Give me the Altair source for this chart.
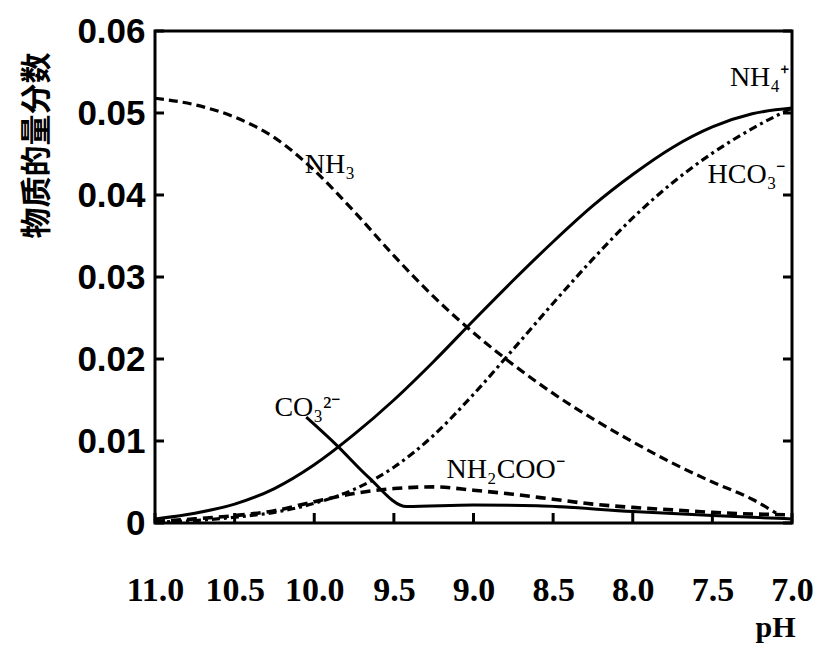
import altair as alt
import pandas as pd

# ---- data ----
PH = [11.0, 10.75, 10.5, 10.25, 10.0, 9.75, 9.5, 9.25, 9.0, 8.75, 8.5, 8.25, 8.0, 7.75, 7.5, 7.25, 7.0]

NH3_PH = [11.0, 10.75, 10.5, 10.25, 10.0, 9.75, 9.5, 9.25, 9.0, 8.75, 8.5, 8.25, 8.0, 7.75, 7.5, 7.25, 7.1]
NH3 = [0.0518, 0.0510, 0.0495, 0.0470, 0.0430, 0.0380, 0.0326, 0.0276, 0.0232, 0.0193, 0.0158, 0.0127,
       0.0099, 0.0073, 0.0050, 0.0029, 0.0012]

NH4 = [0.0005, 0.0012, 0.0023, 0.0042, 0.0071, 0.0108, 0.0150, 0.0197, 0.0247, 0.0296, 0.0343, 0.0387,
       0.0425, 0.0458, 0.0483, 0.0499, 0.0506]

HCO3 = [0.0001, 0.0003, 0.0007, 0.0013, 0.0024, 0.0041, 0.0068, 0.0107, 0.0157, 0.0212, 0.0268, 0.0322,
        0.0372, 0.0415, 0.0451, 0.0481, 0.0506]

NH2COO = [0.0002, 0.0005, 0.0009, 0.0015, 0.0026, 0.0036, 0.0042, 0.0044, 0.0040, 0.0035, 0.0029, 0.0023,
          0.0019, 0.0016, 0.0013, 0.0011, 0.0010]

CO3_PH = [10.05, 9.86, 9.66, 9.42, 9.0, 8.6, 8.0, 7.5, 7.0]
CO3 = [0.0129, 0.0095, 0.0056, 0.0020, 0.0022, 0.0021, 0.0014, 0.0009, 0.0005]

LABEL_TEXT = ["NH₃", "NH₄⁺", "HCO₃⁻", "CO₃²⁻", "NH₂COO⁻"]
LABEL_PH = [10.06, 7.39, 7.53, 10.25, 9.17]
LABEL_VAL = [0.0437, 0.0543, 0.0424, 0.0140, 0.0065]

X_TICKS = [11.0, 10.5, 10.0, 9.5, 9.0, 8.5, 8.0, 7.5, 7.0]
Y_TICKS = [0.0, 0.01, 0.02, 0.03, 0.04, 0.05, 0.06]

W, H = 637, 492

x_scale = alt.Scale(domain=[7, 11], reverse=True, nice=False, zero=False)
y_scale = alt.Scale(domain=[0, 0.06], nice=False, zero=False)

x_axis = alt.Axis(
    values=X_TICKS, format=".1f", grid=False, domain=False, tickSize=0,
    labelFont="Liberation Sans Narrow", labelFontSize=34, labelFontWeight="bold",
    labelColor="black", labelPadding=50, labelFlush=False,
    title="pH", titleFont="Liberation Serif", titleFontSize=30, titleFontWeight="bold",
    titleColor="black", titleX=620, titleY=104, titleAlign="center", titleBaseline="middle",
)
y_axis = alt.Axis(
    values=Y_TICKS, labelExpr="datum.value == 0 ? '0' : format(datum.value, '.2f')",
    grid=False, domain=False, tickSize=0,
    labelFont="Liberation Sans", labelFontSize=35, labelFontWeight="bold",
    labelColor="black", labelPadding=10,
    title="物质的量分数", titleFont="Noto Sans CJK SC", titleFontSize=31, titleFontWeight="bold",
    titleColor="black", titleAngle=-90, titleX=-118, titleY=114,
    titleAlign="center", titleBaseline="middle",
)


def series(ph, vals):
    return pd.DataFrame({"pH": ph, "v": vals})


def line(df, dash, width):
    kw = dict(color="black", strokeWidth=width, interpolate="monotone", clip=True)
    if dash:
        kw["strokeDash"] = dash
    return alt.Chart(df).mark_line(**kw).encode(
        x=alt.X("pH:Q", scale=x_scale, axis=x_axis),
        y=alt.Y("v:Q", scale=y_scale, axis=y_axis),
    )


nh3 = line(series(NH3_PH, NH3), [9, 5], 3.2)
nh4 = line(series(PH, NH4), None, 3)
hco3 = line(series(PH, HCO3), [8, 4, 3, 4], 3.2)
nh2coo = line(series(PH, NH2COO), [10, 6], 3.6)
co3 = line(series(CO3_PH, CO3), None, 3)

labels = alt.Chart(pd.DataFrame({"t": LABEL_TEXT, "pH": LABEL_PH, "v": LABEL_VAL})).mark_text(
    font="Liberation Serif", fontSize=28, align="left", baseline="middle", color="black"
).encode(x=alt.X("pH:Q", scale=x_scale), y=alt.Y("v:Q", scale=y_scale), text="t:N")

ytick_df = pd.DataFrame({"v": Y_TICKS})
xtick_df = pd.DataFrame({"pH": X_TICKS})

left_ticks = alt.Chart(ytick_df).mark_rule(color="black", strokeWidth=3).encode(
    y=alt.Y("v:Q", scale=y_scale), x=alt.value(0), x2=alt.value(9))
right_ticks = alt.Chart(ytick_df).mark_rule(color="black", strokeWidth=3).encode(
    y=alt.Y("v:Q", scale=y_scale), x=alt.value(W - 9), x2=alt.value(W))
bottom_ticks = alt.Chart(xtick_df).mark_rule(color="black", strokeWidth=3).encode(
    x=alt.X("pH:Q", scale=x_scale), y=alt.value(H), y2=alt.value(H - 10))

chart = alt.layer(
    nh3, nh4, hco3, nh2coo, co3, labels, left_ticks, right_ticks, bottom_ticks
).properties(
    width=W, height=H,
    autosize=alt.AutoSizeParams(type="none"),
    padding={"left": 147, "top": 23, "right": 24, "bottom": 128},
    background="white",
).configure_view(stroke="black", strokeWidth=3)

chart.save("out.html", embed_options={"renderer": "svg", "actions": False})
